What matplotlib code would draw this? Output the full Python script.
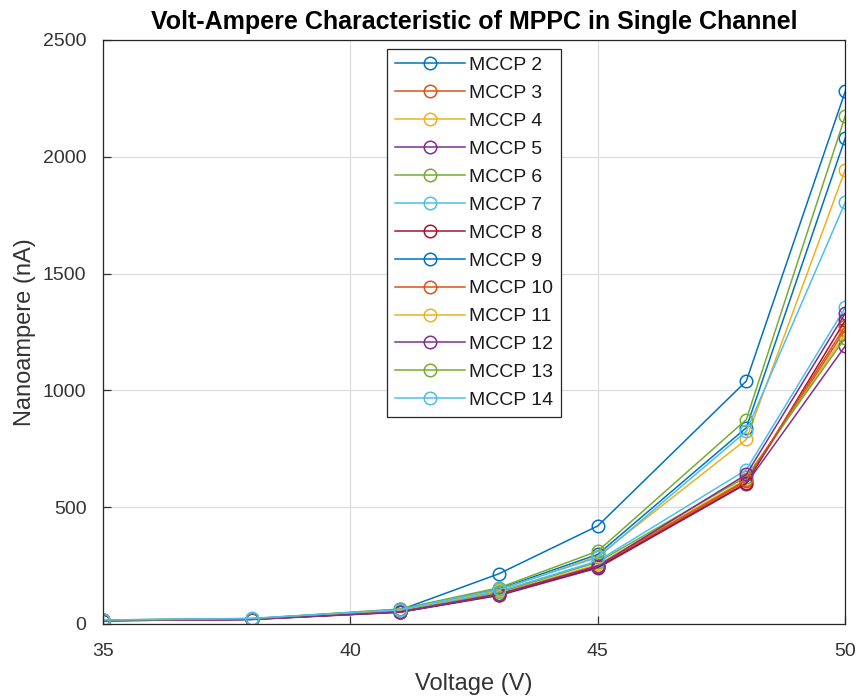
import matplotlib
matplotlib.use("Agg")
import matplotlib.pyplot as plt

plt.rcParams['font.family'] = ['Liberation Sans', 'DejaVu Sans']

voltage = [35, 38, 41, 43, 45, 48, 50]

labels = ["MCCP 2", "MCCP 3", "MCCP 4", "MCCP 5", "MCCP 6", "MCCP 7", "MCCP 8",
          "MCCP 9", "MCCP 10", "MCCP 11", "MCCP 12", "MCCP 13", "MCCP 14"]

mccp2 = [15, 20, 60, 215, 420, 1040, 2280]
mccp3 = [14, 20, 52, 125, 245, 610, 1260]
mccp4 = [15, 21, 55, 130, 255, 620, 1240]
mccp5 = [14, 19, 50, 122, 240, 600, 1190]
mccp6 = [16, 22, 58, 135, 265, 630, 1225]
mccp7 = [17, 23, 56, 140, 270, 660, 1355]
mccp8 = [14, 20, 51, 124, 242, 602, 1300]
mccp9 = [16, 22, 62, 150, 298, 840, 2080]
mccp10 = [15, 21, 53, 128, 250, 615, 1275]
mccp11 = [16, 21, 60, 145, 290, 790, 1945]
mccp12 = [15, 20, 52, 127, 248, 640, 1330]
mccp13 = [17, 23, 64, 155, 312, 875, 2175]
mccp14 = [17, 24, 61, 148, 285, 825, 1805]

series = [mccp2, mccp3, mccp4, mccp5, mccp6, mccp7, mccp8,
          mccp9, mccp10, mccp11, mccp12, mccp13, mccp14]

colors = ["#0072BD", "#D95319", "#EDB120", "#7E2F8E", "#77AC30", "#4DBEEE", "#A2142F"]

fig = plt.figure(figsize=(8.59, 7.0), dpi=100)
ax = fig.add_axes([0.120, 0.1086, 0.864, 0.8343])

for i, (lab, vals) in enumerate(zip(labels, series)):
    ax.plot(voltage, vals, marker='o', markersize=9, markerfacecolor='none',
            markeredgewidth=1.1, linewidth=1.1, color=colors[i % 7], label=lab)

ax.set_xlim(35, 50)
ax.set_ylim(0, 2500)
ax.set_xticks([35, 40, 45, 50])
ax.set_yticks([0, 500, 1000, 1500, 2000, 2500])
ax.grid(True, color='#dcdcdc', linewidth=0.9)
ax.set_axisbelow(True)
ax.tick_params(direction='in', length=6, labelsize=14, colors='#333333', width=0.9)
ax.tick_params(axis='y', pad=12)
ax.tick_params(axis='x', pad=14)
for sp in ax.spines.values():
    sp.set_color('#262626')
    sp.set_linewidth(0.9)

ax.set_xlabel("Voltage (V)", fontsize=17, color='#333333', labelpad=9)
ax.set_ylabel("Nanoampere (nA)", fontsize=17, color='#333333', labelpad=5)
ax.set_title("Volt-Ampere Characteristic of MPPC in Single Channel", fontsize=18,
             fontweight='bold', color='black', pad=8)

leg = ax.legend(loc='upper left', bbox_to_anchor=(0.383, 0.985), fontsize=14,
                handlelength=3.6, labelspacing=0.53, frameon=True, fancybox=False,
                borderpad=0.4, handletextpad=0.2, borderaxespad=0)
leg.get_frame().set_edgecolor('#262626')
leg.get_frame().set_linewidth(0.9)
leg.get_frame().set_alpha(1)
for t in leg.get_texts():
    t.set_color('#1a1a1a')

fig.savefig("out.png", dpi=100)
